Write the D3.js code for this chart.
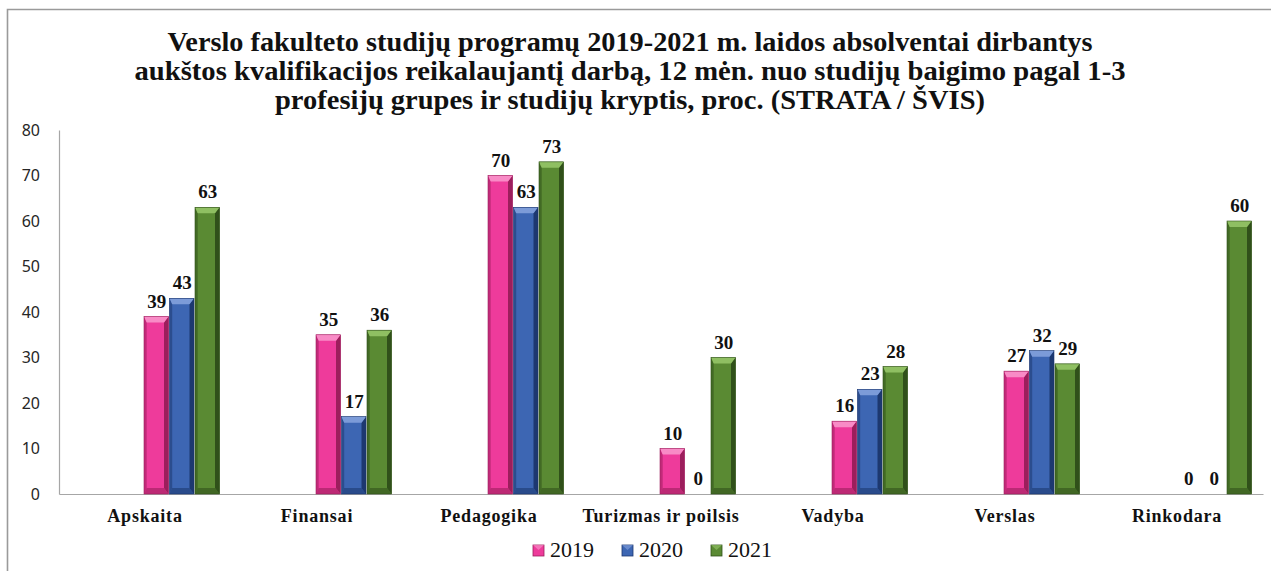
<!DOCTYPE html>
<html><head><meta charset="utf-8">
<script src="https://cdn.jsdelivr.net/npm/d3@7"></script>
<style>body{margin:0;background:#fff}svg{display:block}</style>
</head><body>
<svg id="chart" width="1271" height="571"></svg>
<script>
const titleLines = [
  "Verslo fakulteto studijų programų 2019-2021 m. laidos absolventai dirbantys",
  "aukštos kvalifikacijos reikalaujantį darbą, 12 mėn. nuo studijų baigimo pagal 1-3",
  "profesijų grupes ir studijų kryptis, proc. (STRATA / ŠVIS)"
];
const categories = ["Apskaita","Finansai","Pedagogika","Turizmas ir poilsis","Vadyba","Verslas","Rinkodara"];
const seriesNames = ["2019","2020","2021"];
const values2019 = [39, 35, 70, 10, 16, 27, 0];
const values2020 = [43, 17, 63, 0, 23, 31.5, 0];
const values2021 = [63, 36, 73, 30, 28, 28.6, 60];
const yTicks = [0,10,20,30,40,50,60,70,80];

(function(){
const seriesValues = [values2019, values2020, values2021];
const palette = [
  {base:"#ee3b9b", light:"#f88bc6", dark:"#9c1e5c"},
  {base:"#3d66b3", light:"#7c9bd8", dark:"#1d3870"},
  {base:"#5a8a33", light:"#8fbf62", dark:"#30501a"}
];

const svg = d3.select("#chart");
svg.append("path").attr("d","M7.5,571 V9.5 H1271").attr("fill","none").attr("stroke","#9a9a9a").attr("stroke-width",1.6);

const titleWidths = [925, 991, 710];
titleLines.forEach((t,i)=>{
  svg.append("text").attr("x",630).attr("y",51+i*29).attr("text-anchor","middle")
    .attr("font-family","'Liberation Serif','Times New Roman',serif").attr("font-weight","bold")
    .attr("font-size",26.5).attr("fill","#111")
    .attr("textLength",titleWidths[i]).attr("lengthAdjust","spacingAndGlyphs").text(t);
});

const mLeft = 59, mRight = 1263, mTop = 130, mBottom = 494;
const x = d3.scaleBand().domain(categories).range([mLeft,mRight]).paddingInner(0).paddingOuter(0);
const y = d3.scaleLinear().domain([0,80]).range([mBottom,mTop]);
const barW = 25.5;
const xs = d3.scaleLinear().domain([0,1]).range([0,barW]);

const yAxis = svg.append("g").attr("transform",`translate(${mLeft},0)`)
  .call(d3.axisLeft(y).tickValues(yTicks).tickSize(0).tickPadding(19));
yAxis.select(".domain").attr("stroke","#a6a6a6").attr("stroke-width",1.2);
yAxis.selectAll("text").attr("font-family","'Noto Sans','Open Sans',sans-serif").attr("font-size",16).attr("fill","#262626");

const xAxis = svg.append("g").attr("transform",`translate(0,${mBottom})`)
  .call(d3.axisBottom(x).tickSize(0).tickPadding(15));
xAxis.select(".domain").attr("stroke","#a6a6a6").attr("stroke-width",1.2);
xAxis.selectAll("text").attr("font-family","'Liberation Serif','Times New Roman',serif")
  .attr("font-weight","bold").attr("font-size",18).attr("letter-spacing",0.8).attr("fill","#111");

const catCenter = c => x(c) + x.bandwidth()/2 - 1;
seriesValues.forEach((vals, si)=>{
  const col = palette[si];
  const g = svg.append("g");
  vals.forEach((v, ci)=>{
    const cat = categories[ci];
    const bx = catCenter(cat) + xs(si);
    const by = y(v), bh = y(0) - y(v);
    const cx = bx + barW/2;
    if (v > 0) {
      const b = 4.5, bt = 6;
      const w = barW - 1;
      g.append("rect").attr("x",bx).attr("y",by).attr("width",w).attr("height",bh).attr("fill",col.base);
      g.append("polygon").attr("points",`${bx},${by} ${bx+b*0.6},${by+bt} ${bx+b*0.6},${by+bh-bt} ${bx},${by+bh}`).attr("fill",col.dark).attr("opacity",0.55);
      g.append("polygon").attr("points",`${bx+w},${by} ${bx+w-b},${by+bt} ${bx+w-b},${by+bh-bt} ${bx+w},${by+bh}`).attr("fill",col.dark);
      g.append("polygon").attr("points",`${bx},${by} ${bx+w},${by} ${bx+w-b},${by+bt} ${bx+b*0.6},${by+bt}`).attr("fill",col.light);
      g.append("polygon").attr("points",`${bx},${by+bh} ${bx+w},${by+bh} ${bx+w-b},${by+bh-bt} ${bx+b*0.6},${by+bh-bt}`).attr("fill",col.dark).attr("opacity",0.6);
      g.append("rect").attr("x",bx).attr("y",by).attr("width",w).attr("height",bh).attr("fill","none").attr("stroke",col.dark).attr("stroke-width",0.6);
    }
    svg.append("text").attr("x",cx).attr("y",by-9).attr("text-anchor","middle")
      .attr("font-family","'Liberation Serif','Times New Roman',serif").attr("font-weight","bold")
      .attr("font-size",19).attr("fill","#111").text(Math.round(v));
  });
});

const legendX = [533, 622, 711];
seriesNames.forEach((s,i)=>{
  const col = palette[i];
  const lx = legendX[i], ly = 545;
  svg.append("rect").attr("x",lx).attr("y",ly).attr("width",11).attr("height",11).attr("fill",col.base).attr("stroke",col.dark).attr("stroke-width",0.8);
  svg.append("polygon").attr("points",`${lx},${ly} ${lx+11},${ly} ${lx+5.5},${ly+5}`).attr("fill",col.light).attr("opacity",0.7);
  svg.append("text").attr("x",lx+17).attr("y",ly+12).attr("font-family","'Liberation Serif','Times New Roman',serif")
    .attr("font-size",22).attr("fill","#111").text(s);
});
})();
</script>
</body></html>
